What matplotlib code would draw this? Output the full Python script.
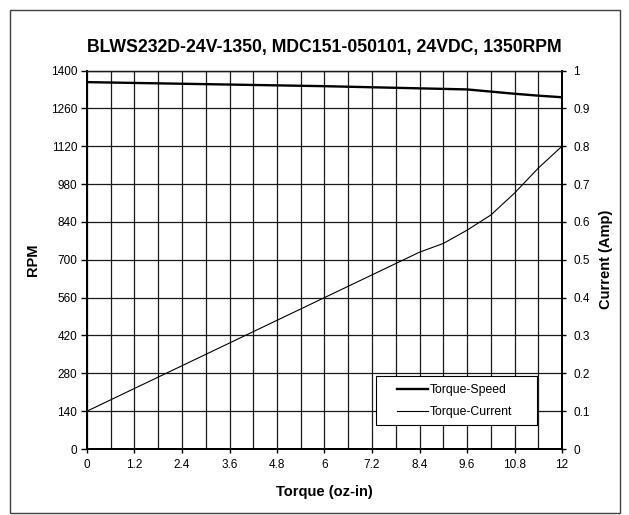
import matplotlib
matplotlib.use("Agg")
import matplotlib.pyplot as plt
from matplotlib.patches import Rectangle
from matplotlib.ticker import MultipleLocator

plt.rcParams['font.family'] = ['Liberation Sans', 'DejaVu Sans']

title = "BLWS232D-24V-1350, MDC151-050101, 24VDC, 1350RPM"
torque_speed = [0, 1.2, 2.4, 3.6, 4.8, 6.0, 7.2, 8.4, 9.6, 10.2, 10.8, 11.4, 12.0]
speed_rpm = [1357, 1354, 1351, 1348, 1345, 1342, 1338, 1334, 1330, 1322, 1314, 1307, 1301]
torque_current = [0, 1.2, 2.4, 3.6, 4.8, 6.0, 7.2, 8.4, 9.0, 9.6, 10.2, 10.8, 11.4, 12.0]
current_amp = [0.10, 0.16, 0.22, 0.28, 0.34, 0.40, 0.46, 0.52, 0.543, 0.578, 0.618, 0.676, 0.742, 0.80]
x_ticks = [0, 1.2, 2.4, 3.6, 4.8, 6, 7.2, 8.4, 9.6, 10.8, 12]
x_tick_labels = ["0", "1.2", "2.4", "3.6", "4.8", "6", "7.2", "8.4", "9.6", "10.8", "12"]
rpm_ticks = [0, 140, 280, 420, 560, 700, 840, 980, 1120, 1260, 1400]
amp_ticks = [0, 0.1, 0.2, 0.3, 0.4, 0.5, 0.6, 0.7, 0.8, 0.9, 1]
amp_tick_labels = ["0", "0.1", "0.2", "0.3", "0.4", "0.5", "0.6", "0.7", "0.8", "0.9", "1"]

W, H = 629, 515
fig = plt.figure(figsize=(W / 100, H / 100), dpi=100)
fig.patch.set_facecolor('white')

# outer frame
fig.patches.append(Rectangle((10 / W, 1 - 513 / H), 610 / W, 503 / H,
                             transform=fig.transFigure, fill=False,
                             edgecolor='#404040', linewidth=1.0))

l, r, b, t = 87, 562, 449, 70.5
ax = fig.add_axes([l / W, 1 - b / H, (r - l) / W, (b - t) / H])
ax2 = ax.twinx()

ax.set_xlim(0, 12)
ax.set_ylim(0, 1400)
ax2.set_ylim(0, 1)

ax.xaxis.set_minor_locator(MultipleLocator(0.6))
ax.set_xticks(x_ticks)
ax.set_xticklabels(x_tick_labels)
ax.set_yticks(rpm_ticks)
ax2.set_yticks(amp_ticks)
ax2.set_yticklabels(amp_tick_labels)

ax.grid(True, which='both', axis='x', color='#1a1a1a', linewidth=0.9)
ax.grid(True, which='major', axis='y', color='#1a1a1a', linewidth=0.9)
ax.set_axisbelow(True)

ax.tick_params(axis='x', which='major', direction='out', length=3, width=1,
               labelsize=8.5, pad=4, color='black')
ax.tick_params(axis='x', which='minor', length=0)
ax.tick_params(axis='y', direction='out', length=4, width=1, labelsize=8.5, pad=3)
ax2.tick_params(axis='y', direction='out', length=3, width=1, labelsize=8.5, pad=5)

for a in (ax, ax2):
    for s in ('left', 'right', 'bottom'):
        a.spines[s].set_linewidth(1.4)
        a.spines[s].set_color('black')
    a.spines['top'].set_linewidth(0.9)
    a.spines['top'].set_color('#1a1a1a')

l1, = ax.plot(torque_speed, speed_rpm, color='black', linewidth=1.7, label='Torque-Speed')
l2, = ax2.plot(torque_current, current_amp, color='black', linewidth=0.8, label='Torque-Current')

ax.set_xlabel('Torque (oz-in)', fontsize=10.5, fontweight='bold', labelpad=10)
ax.set_ylabel('RPM', fontsize=10.5, fontweight='bold', labelpad=8)
ax2.set_ylabel('Current (Amp)', fontsize=10.5, fontweight='bold', labelpad=7)

fig.text(324 / W, 1 - 51.7 / H, title, ha='center', va='baseline',
         fontsize=12.7, fontweight='bold')

# legend box (pixel geometry from the reference)
def px_to_ax(x, y):
    return (x - l) / (r - l), (b - y) / (b - t)

bx0, by0 = px_to_ax(376, 425)
bx1, by1 = px_to_ax(537, 376)
ax2.add_patch(Rectangle((bx0, by0), bx1 - bx0, by1 - by0, transform=ax2.transAxes,
                        facecolor='white', edgecolor='black', linewidth=0.8,
                        zorder=5, clip_on=False))
ax_, ay_ = px_to_ax(397, 401)
leg = ax2.legend(handles=[l1, l2], loc='center left', bbox_to_anchor=(ax_, ay_),
                 fontsize=8.8, frameon=False, handlelength=2.5, handletextpad=0.2,
                 borderpad=0, labelspacing=0.85, borderaxespad=0)
leg.set_zorder(6)

fig.savefig('out.png', dpi=100, facecolor='white')
